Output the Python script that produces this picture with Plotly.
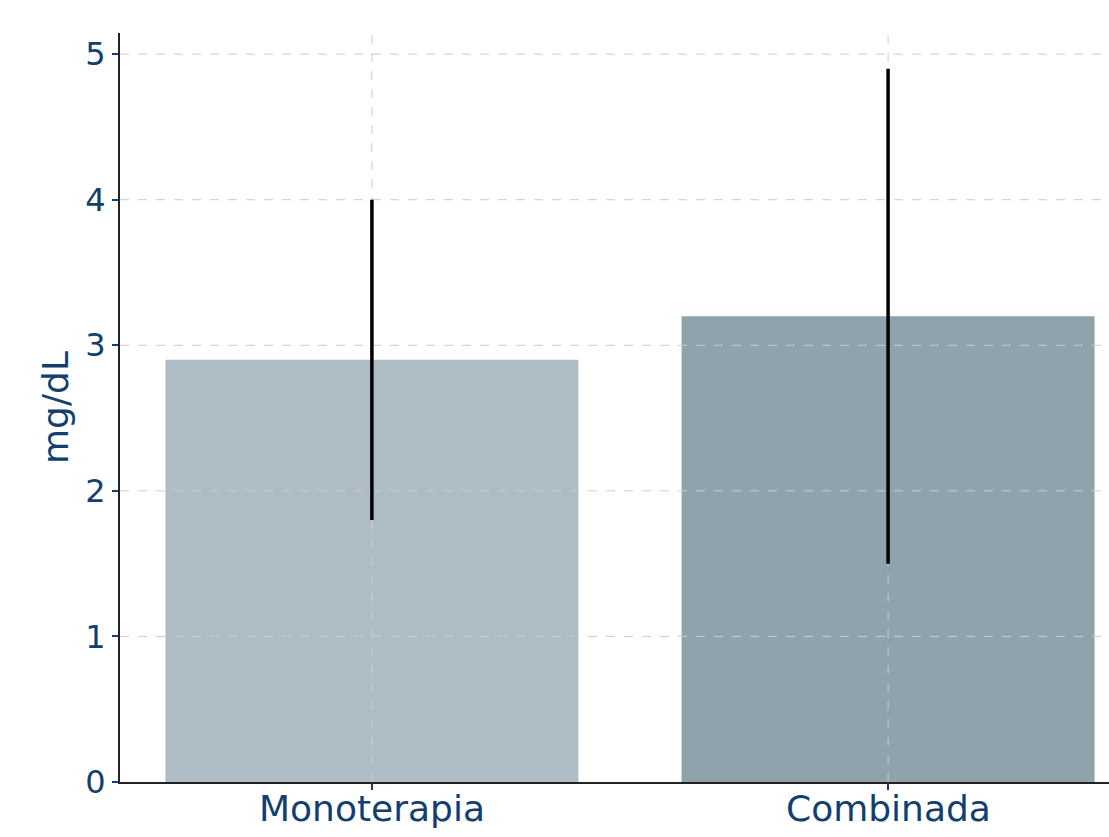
import plotly.graph_objects as go

categories = ["Monoterapia", "Combinada"]
means = [2.9, 3.2]
errors = [1.1, 1.7]
bar_colors = ["#aebdc5", "#8fa3ac"]
y_ticks = [0, 1, 2, 3, 4, 5]

TEXT = "#123f6e"
x_pos = list(range(len(categories)))
x_range = [-0.488, 1.428]
y_range = [0, 5.145]

fig = go.Figure()
fig.add_trace(go.Bar(x=x_pos, y=means, width=0.8, marker=dict(color=bar_colors, line=dict(width=0)),
                     showlegend=False, hoverinfo="skip"))

# dashed grid drawn above bars
for yv in y_ticks[1:]:
    fig.add_trace(go.Scatter(x=x_range, y=[yv, yv], mode="lines",
                             line=dict(color="#cccccc", width=1, dash="dash"),
                             showlegend=False, hoverinfo="skip"))
for xv in x_pos:
    fig.add_trace(go.Scatter(x=[xv, xv], y=y_range, mode="lines",
                             line=dict(color="#cccccc", width=1, dash="dash"),
                             showlegend=False, hoverinfo="skip"))

fig.add_trace(go.Scatter(x=x_pos, y=means, mode="markers", marker=dict(size=1, opacity=0),
                         error_y=dict(type="data", array=errors, visible=True, color="black",
                                      thickness=3.5, width=0),
                         showlegend=False, hoverinfo="skip"))

# category labels placed as annotations just under the axis
for xv, label in zip(x_pos, categories):
    fig.add_annotation(x=xv, y=0, xref="x", yref="y", text=label, showarrow=False,
                       xanchor="center", yanchor="top", yshift=-5, borderpad=0,
                       font=dict(size=36, color=TEXT, family="DejaVu Sans"))

fig.update_layout(
    width=1109, height=837,
    margin=dict(l=120, r=0, t=33, b=55),
    paper_bgcolor="white", plot_bgcolor="white",
    font=dict(family="DejaVu Sans", color=TEXT),
    xaxis=dict(range=x_range, tickvals=x_pos, showticklabels=False, showgrid=False, zeroline=False,
               showline=True, linecolor="#222222", linewidth=2, automargin=False,
               ticks="outside", ticklen=6, tickwidth=1.5, tickcolor=TEXT),
    yaxis=dict(range=y_range, tickvals=y_ticks, showgrid=False, zeroline=False,
               showline=True, linecolor="#222222", linewidth=2, automargin=False,
               ticks="outside", ticklen=6, tickwidth=1.5, tickcolor=TEXT,
               tickfont=dict(size=32, color=TEXT),
               title=dict(text="mg/dL", font=dict(size=36, color=TEXT), standoff=6)),
)

fig.write_html("out.html", config={"displayModeBar": False},
               post_script="document.body.style.margin='0';document.body.style.overflow='hidden';")
